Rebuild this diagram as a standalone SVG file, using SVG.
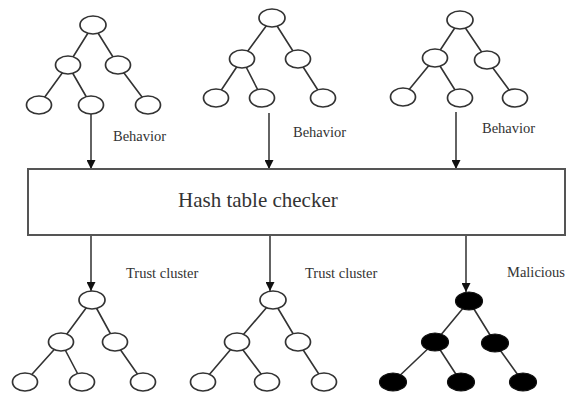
<svg xmlns="http://www.w3.org/2000/svg" width="571" height="396" viewBox="0 0 571 396">
<defs>
<marker id="ah" viewBox="0 0 10 10" refX="10" refY="5" markerWidth="9" markerHeight="9" markerUnits="userSpaceOnUse" orient="auto">
<path d="M0,0 L10,5 L0,10 Z" fill="#111"/>
</marker>
</defs>
<style>
.n{fill:#fff;stroke:#333;stroke-width:1.7}
.m{fill:#000;stroke:#111;stroke-width:1.2}
.e{stroke:#333;stroke-width:1.6;fill:none}
.a{stroke:#222;stroke-width:1.4;fill:none;marker-end:url(#ah)}
.lbl{font-family:"Liberation Serif",serif;font-size:14.5px;fill:#333}
.big{font-family:"Liberation Serif",serif;font-size:21px;fill:#333}
</style>
<rect width="571" height="396" fill="#fff"/>

<g id="connectors">
<path class="a" d="M91,114 V169"/>
<path class="a" d="M269,113 V169"/>
<path class="a" d="M456,112 V169"/>
<path class="a" d="M91,236 V291"/>
<path class="a" d="M270,236 V291"/>
<path class="a" d="M466,236 V292"/>
</g>

<g id="tree1">
<path class="e" d="M93,25 L68,65 M93,25 L118,65 M68,65 L39,105 M68,65 L91,105 M118,65 L148,105"/>
<ellipse class="n" cx="93" cy="25" rx="13" ry="9"/>
<ellipse class="n" cx="68" cy="65" rx="12.5" ry="9"/>
<ellipse class="n" cx="118" cy="65" rx="12.5" ry="9"/>
<ellipse class="n" cx="39" cy="105" rx="12.5" ry="9"/>
<ellipse class="n" cx="91" cy="105" rx="12.5" ry="9"/>
<ellipse class="n" cx="148" cy="105" rx="12.5" ry="9"/>
</g>
<g id="tree2">
<path class="e" d="M272,18 L242,59 M272,18 L298,59 M242,59 L216,98 M242,59 L262,98 M298,59 L323,98"/>
<ellipse class="n" cx="272" cy="18" rx="13" ry="9"/>
<ellipse class="n" cx="242" cy="59" rx="12.5" ry="9"/>
<ellipse class="n" cx="298" cy="59" rx="12.5" ry="9"/>
<ellipse class="n" cx="216" cy="98" rx="12.5" ry="9"/>
<ellipse class="n" cx="262" cy="98" rx="12.5" ry="9"/>
<ellipse class="n" cx="323" cy="98" rx="12.5" ry="9"/>
</g>
<g id="tree3">
<path class="e" d="M460,20 L435,58 M460,20 L487,60 M435,58 L403,97 M435,58 L460,98 M487,60 L515,98"/>
<ellipse class="n" cx="460" cy="20" rx="13" ry="9"/>
<ellipse class="n" cx="435" cy="58" rx="12.5" ry="9"/>
<ellipse class="n" cx="487" cy="60" rx="12.5" ry="9"/>
<ellipse class="n" cx="403" cy="97" rx="12.5" ry="9"/>
<ellipse class="n" cx="460" cy="98" rx="12.5" ry="9"/>
<ellipse class="n" cx="515" cy="98" rx="12.5" ry="9"/>
</g>

<g id="labels-top">
<text class="lbl" x="113" y="141">Behavior</text>
<text class="lbl" x="293" y="137">Behavior</text>
<text class="lbl" x="482" y="133">Behavior</text>
</g>

<g id="checker">
<rect x="28" y="169" width="537" height="66" fill="#fff" stroke="#555" stroke-width="2"/>
<text class="big" x="178" y="207">Hash table checker</text>
</g>

<g id="labels-bottom">
<text class="lbl" x="126" y="278">Trust cluster</text>
<text class="lbl" x="305" y="278">Trust cluster</text>
<text class="lbl" x="507" y="277">Malicious</text>
</g>

<g id="tree4">
<path class="e" d="M92,300 L61,342 M92,300 L115,342 M61,342 L25,382 M61,342 L82,382 M115,342 L143,382"/>
<ellipse class="n" cx="92" cy="300" rx="13" ry="9"/>
<ellipse class="n" cx="61" cy="342" rx="12.5" ry="9"/>
<ellipse class="n" cx="115" cy="342" rx="12.5" ry="9"/>
<ellipse class="n" cx="25" cy="382" rx="12.5" ry="9"/>
<ellipse class="n" cx="82" cy="382" rx="12.5" ry="9"/>
<ellipse class="n" cx="143" cy="382" rx="12.5" ry="9"/>
</g>
<g id="tree5">
<path class="e" d="M273,300 L237,342 M273,300 L298,342 M237,342 L203,382 M237,342 L267,382 M298,342 L324,382"/>
<ellipse class="n" cx="273" cy="300" rx="13" ry="9"/>
<ellipse class="n" cx="237" cy="342" rx="12.5" ry="9"/>
<ellipse class="n" cx="298" cy="342" rx="12.5" ry="9"/>
<ellipse class="n" cx="203" cy="382" rx="12.5" ry="9"/>
<ellipse class="n" cx="267" cy="382" rx="12.5" ry="9"/>
<ellipse class="n" cx="324" cy="382" rx="12.5" ry="9"/>
</g>
<g id="tree6">
<path class="e" d="M469,301 L435,342 M469,301 L495,343 M435,342 L393,382 M435,342 L461,382 M495,343 L523,382"/>
<ellipse class="m" cx="469" cy="301" rx="13.5" ry="9"/>
<ellipse class="m" cx="435" cy="342" rx="13.5" ry="9"/>
<ellipse class="m" cx="495" cy="343" rx="13.5" ry="9"/>
<ellipse class="m" cx="393" cy="382" rx="13.5" ry="9"/>
<ellipse class="m" cx="461" cy="382" rx="13.5" ry="9"/>
<ellipse class="m" cx="523" cy="382" rx="13.5" ry="9"/>
</g>
</svg>
